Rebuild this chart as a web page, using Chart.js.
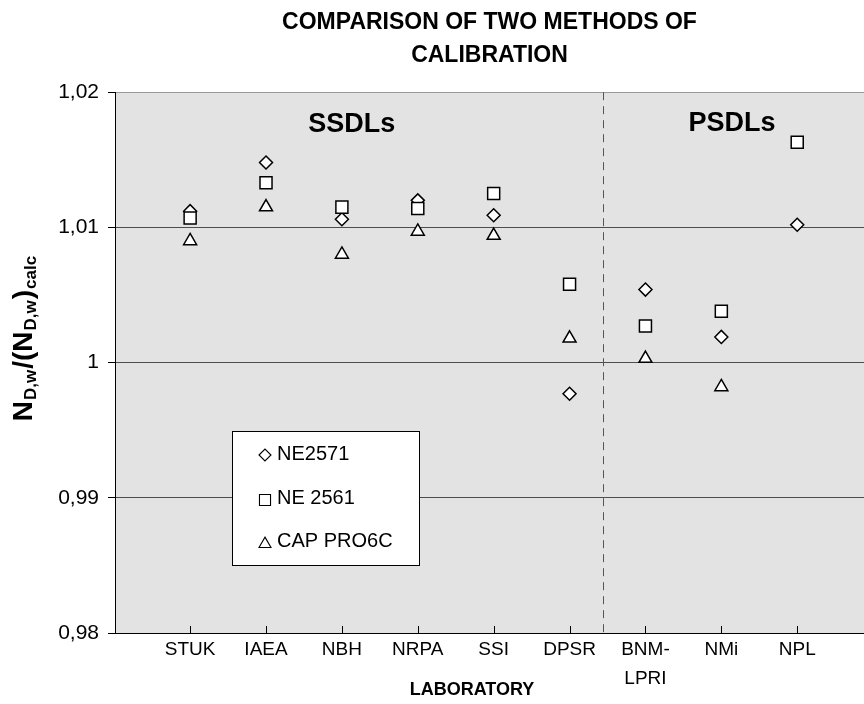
<!DOCTYPE html>
<html>
<head>
<meta charset="utf-8">
<script src="https://cdn.jsdelivr.net/npm/chart.js@4.4.1/dist/chart.umd.min.js"></script>
<style>
  body { margin: 0; background: #fff; }
  #wrap { width: 864px; height: 704px; position: relative; }
</style>
</head>
<body>
<div id="wrap"><canvas id="calChart"></canvas></div>
<script>
const labs = ["STUK", "IAEA", "NBH", "NRPA", "SSI", "DPSR", ["BNM-", "LPRI"], "NMi", "NPL"];
const ne2571 = [1.0112, 1.0148, 1.0106, 1.0120, 1.0109, 0.9977, 1.0054, 1.0019, 1.0102];
const ne2561 = [1.0107, 1.0133, 1.0115, 1.0114, 1.0125, 1.0058, 1.0027, 1.0038, 1.0163];
const capPro6c = [1.0090, 1.0115, 1.0080, 1.0097, 1.0094, 1.0018, 1.0003, 0.9982, null];
const yTicks = [0.98, 0.99, 1, 1.01, 1.02];
const seriesNames = ["NE2571", "NE 2561", "CAP PRO6C"];
const groupNames = ["SSDLs", "PSDLs"];
const groupSplit = 5.44; // dashed line between DPSR and BNM-LPRI

const FONT = "'Liberation Sans', Arial, sans-serif";
Chart.defaults.font.family = FONT;
Chart.defaults.color = "#000";

const toPts = (vals) => vals.map((v, i) => ({ x: i, y: v }));
const fmt = (v) => String(Math.round(v * 100) / 100).replace(".", ",");

// background, split line, inner x ticks, group names, legend, axis titles
const decor = {
  id: "decor",
  beforeDraw(chart) {
    const { ctx, chartArea: a } = chart;
    ctx.save();
    ctx.fillStyle = "#e3e3e3";
    ctx.fillRect(a.left, a.top, a.right - a.left, a.bottom - a.top);
    ctx.restore();
  },
  afterDatasetsDraw(chart) {
    const { ctx, chartArea: a, scales: { x, y } } = chart;
    ctx.save();
    const sx = Math.round(x.getPixelForValue(groupSplit)) + 0.5;
    ctx.strokeStyle = "#555";
    ctx.lineWidth = 1;
    ctx.setLineDash([8, 6]);
    ctx.beginPath();
    ctx.moveTo(sx, a.top);
    ctx.lineTo(sx, a.bottom);
    ctx.stroke();
    ctx.setLineDash([]);

    ctx.strokeStyle = "#000";
    labs.forEach((l, i) => {
      const px = Math.round(x.getPixelForValue(i)) + 0.5;
      ctx.beginPath();
      ctx.moveTo(px, a.bottom - 7);
      ctx.lineTo(px, a.bottom);
      ctx.stroke();
    });

    ctx.fillStyle = "#000";
    ctx.font = "bold 27px " + FONT;
    ctx.textAlign = "center";
    ctx.textBaseline = "middle";
    ctx.fillText(groupNames[0], x.getPixelForValue(2.13), y.getPixelForValue(1.0176));
    ctx.fillText(groupNames[1], x.getPixelForValue(7.14), y.getPixelForValue(1.0177));
    ctx.restore();
  },
  afterDraw(chart) {
    const { ctx } = chart;
    ctx.save();

    // legend box
    const lx = 232, ly = 431, lw = 187, lh = 134;
    ctx.fillStyle = "#fff";
    ctx.fillRect(lx, ly, lw, lh);
    ctx.strokeStyle = "#000";
    ctx.lineWidth = 1;
    ctx.strokeRect(lx + 0.5, ly + 0.5, lw, lh);
    const markY = [455, 500, 544];
    const textY = [454, 498, 541];
    chart.data.datasets.forEach((ds, i) => {
      ctx.fillStyle = "#fff";
      ctx.strokeStyle = "#000";
      ctx.lineWidth = 1.1;
      Chart.helpers.drawPoint(ctx, {
        pointStyle: ds.pointStyle, radius: ds.pointRadius * 0.92, rotation: 0, borderWidth: 1.1
      }, 265, markY[i]);
      ctx.fillStyle = "#000";
      ctx.font = "20px " + FONT;
      ctx.textAlign = "left";
      ctx.textBaseline = "middle";
      ctx.fillText(ds.label, 277, textY[i]);
    });

    // x title
    ctx.font = "bold 18px " + FONT;
    ctx.textAlign = "center";
    ctx.textBaseline = "middle";
    ctx.fillText("LABORATORY", 472, 690);

    // y title with subscripts
    const parts = [["N", 28, 0], ["D,w", 17, 4], ["/(N", 28, 0], ["D,w", 17, 4], [")", 28, 0], ["calc", 17, 4]];
    ctx.translate(32, 338);
    ctx.rotate(-Math.PI / 2);
    ctx.textAlign = "left";
    ctx.textBaseline = "alphabetic";
    let total = 0;
    parts.forEach((p) => {
      ctx.font = "bold " + p[1] + "px " + FONT;
      total += ctx.measureText(p[0]).width + 1;
    });
    let cx = -total / 2;
    parts.forEach((p) => {
      ctx.font = "bold " + p[1] + "px " + FONT;
      ctx.fillText(p[0], cx, p[2]);
      cx += ctx.measureText(p[0]).width + 1;
    });
    ctx.restore();
  }
};

const pointBase = {
  backgroundColor: "#fff",
  borderColor: "#000",
  borderWidth: 1.5,
  pointHoverRadius: 8,
  showLine: false
};

new Chart(document.getElementById("calChart"), {
  type: "scatter",
  data: {
    datasets: [
      { ...pointBase, label: seriesNames[0], data: toPts(ne2571), pointStyle: "rectRot", pointRadius: 6.5, order: 3 },
      { ...pointBase, label: seriesNames[1], data: toPts(ne2561), pointStyle: "rect", pointRadius: 8.5, order: 2 },
      { ...pointBase, label: seriesNames[2], data: toPts(capPro6c), pointStyle: "triangle", pointRadius: 7.5, order: 1 }
    ]
  },
  options: {
    responsive: true,
    maintainAspectRatio: false,
    animation: false,
    layout: { padding: 0, autoPadding: false },
    plugins: {
      legend: { display: false },
      tooltip: { enabled: false },
      title: {
        display: true,
        fullSize: false,
        text: ["COMPARISON OF TWO METHODS OF", "CALIBRATION"],
        font: { size: 23, weight: "bold", lineHeight: 1.45 },
        color: "#000",
        padding: { top: 5.5, bottom: 20 }
      }
    },
    scales: {
      x: {
        type: "linear",
        min: -0.99,
        max: 8.88,
        afterBuildTicks: (scale) => { scale.ticks = labs.map((l, i) => ({ value: i })); },
        afterFit: (scale) => {
          scale.height = 71;
          scale.paddingLeft = 0;
          scale.paddingRight = 0;
        },
        grid: { display: false, drawTicks: false },
        border: { display: true, color: "#000", width: 1 },
        ticks: {
          padding: 3,
          maxRotation: 0,
          autoSkip: false,
          font: { size: 19, lineHeight: 1.5 },
          color: "#000",
          callback: (v) => labs[v]
        }
      },
      y: {
        min: 0.98,
        max: 1.02,
        afterBuildTicks: (scale) => { scale.ticks = yTicks.map((v) => ({ value: v })); },
        afterFit: (scale) => { scale.width = 115; },
        grid: {
          color: (c) => (c.tick && c.tick.value === 1.02 ? "#9a9a9a" : "#4d4d4d"),
          tickColor: "#000",
          tickLength: 7,
          lineWidth: 1
        },
        border: { display: true, color: "#000", width: 1 },
        ticks: {
          padding: 9,
          font: { size: 21 },
          color: "#000",
          callback: (v) => fmt(v)
        }
      }
    }
  },
  plugins: [decor]
});
</script>
</body>
</html>
